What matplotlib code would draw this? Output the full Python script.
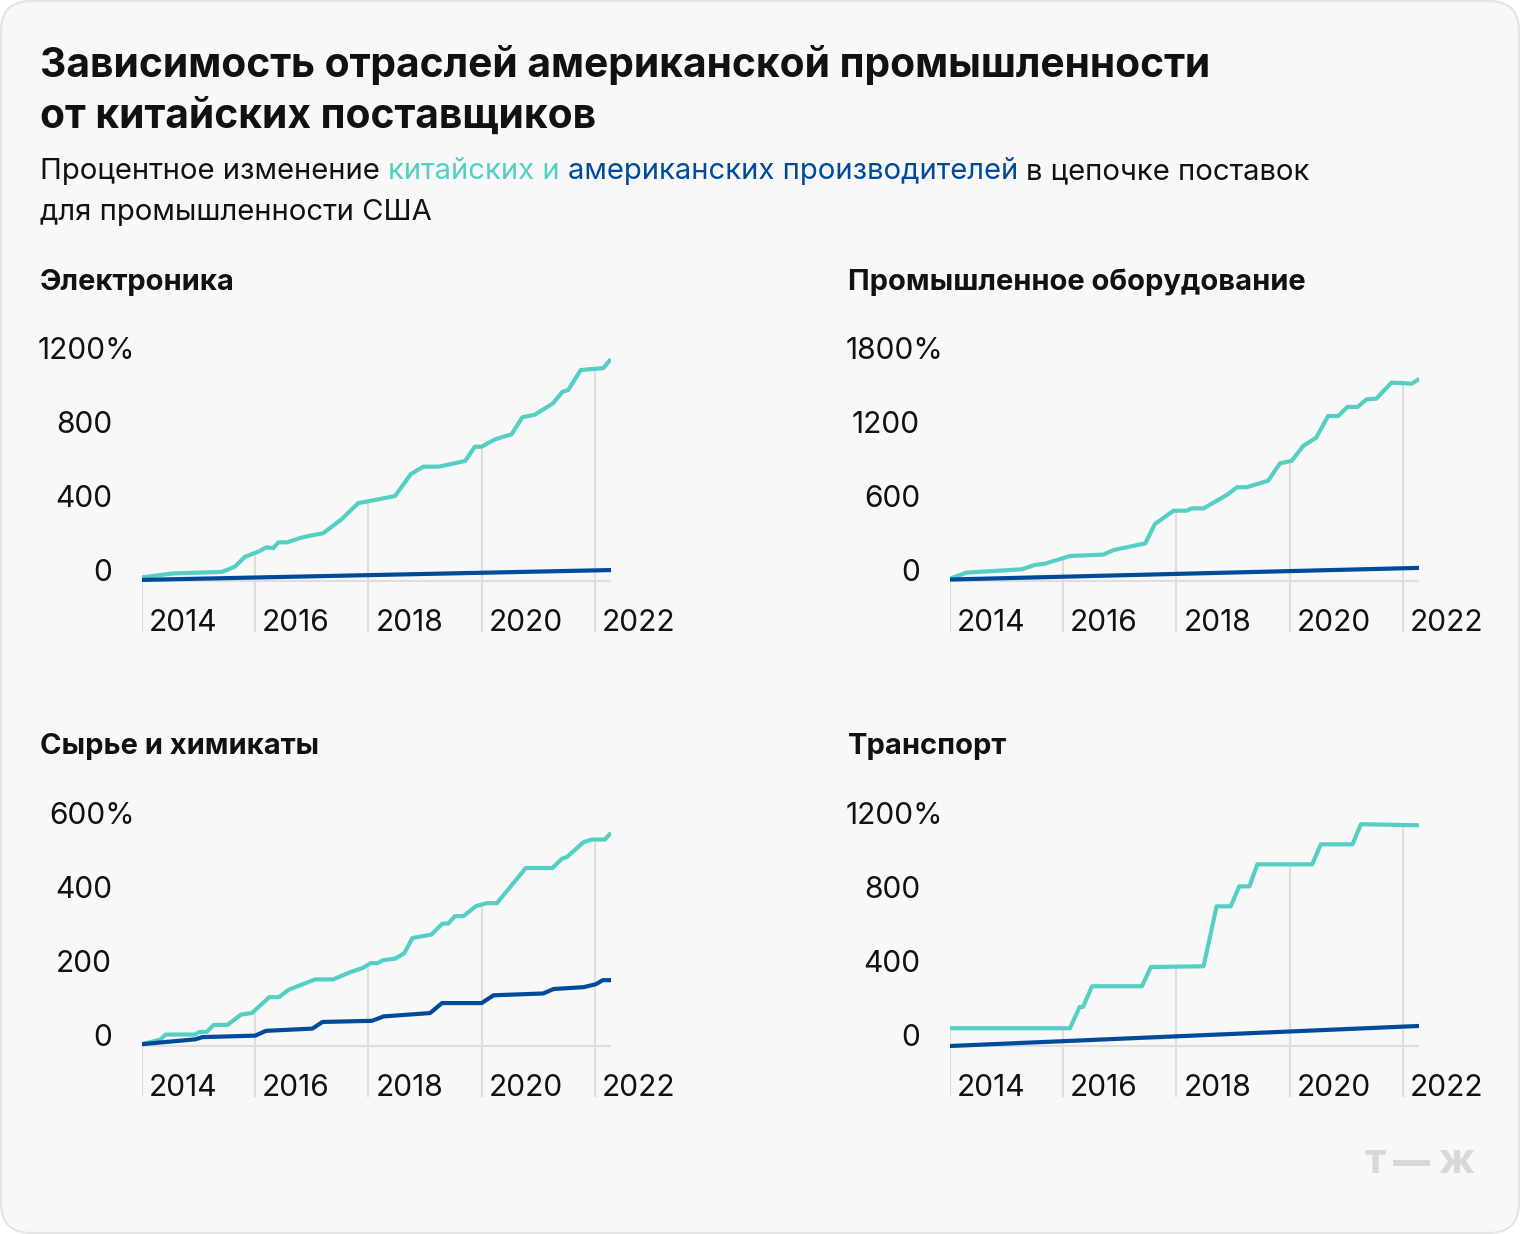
import numpy as np
import matplotlib
matplotlib.use("Agg")
import matplotlib.pyplot as plt
import matplotlib.transforms as mtransforms
from matplotlib.patches import FancyBboxPatch
from matplotlib.lines import Line2D

# ---- data ----
el_cn_x = [2014.0, 2014.55, 2015.41, 2015.64, 2015.82, 2016.05, 2016.2, 2016.32, 2016.41, 2016.56,
           2016.79, 2016.97, 2017.2, 2017.53, 2017.82, 2018.0, 2018.47, 2018.75, 2018.97, 2019.24,
           2019.71, 2019.88, 2020.0, 2020.24, 2020.53, 2020.72, 2020.94, 2021.26, 2021.43, 2021.53,
           2021.75, 2022.15, 2022.26]
el_cn_y = [20, 41, 49, 77, 131, 158, 182, 178, 209, 209,
           232, 245, 258, 335, 421, 431, 459, 578, 618, 618,
           649, 726, 726, 766, 793, 885, 899, 960, 1023, 1032,
           1140, 1151, 1191]
el_us_x = [2014.0, 2022.26]
el_us_y = [6, 59]

eq_cn_x = [2014.0, 2014.29, 2015.27, 2015.5, 2015.68, 2016.12, 2016.71, 2016.89, 2017.45, 2017.62,
           2017.95, 2018.18, 2018.27, 2018.48, 2018.89, 2019.07, 2019.24, 2019.62, 2019.83, 2020.04,
           2020.24, 2020.47, 2020.68, 2020.86, 2021.02, 2021.2, 2021.36, 2021.53, 2021.8, 2021.98,
           2022.16, 2022.26]
eq_cn_y = [19, 68, 95, 130, 141, 203, 214, 251, 305, 462,
           570, 570, 589, 589, 697, 760, 760, 813, 954, 975,
           1095, 1162, 1338, 1338, 1411, 1411, 1473, 1478, 1608, 1605,
           1600, 1630]
eq_us_x = [2014.0, 2022.26]
eq_us_y = [12, 106]

ch_cn_x = [2014.0, 2014.32, 2014.42, 2014.94, 2015.01, 2015.14, 2015.27, 2015.51, 2015.75, 2015.94,
           2016.25, 2016.42, 2016.59, 2017.06, 2017.38, 2017.67, 2017.9, 2018.04, 2018.16, 2018.26,
           2018.47, 2018.63, 2018.78, 2019.11, 2019.31, 2019.41, 2019.53, 2019.68, 2019.9, 2020.09,
           2020.27, 2020.78, 2021.25, 2021.42, 2021.51, 2021.8, 2021.95, 2022.18, 2022.26]
ch_cn_y = [5, 17, 31, 31, 38, 38, 57, 57, 85, 89,
           132, 132, 152, 180, 180, 199, 211, 224, 224, 232,
           236, 250, 292, 301, 331, 331, 351, 351, 378, 386,
           386, 481, 481, 506, 511, 551, 558, 558, 572]
ch_us_x = [2014.0, 2014.94, 2015.07, 2016.0, 2016.19, 2017.01, 2017.19, 2018.06, 2018.27, 2019.09,
           2019.3, 2020.0, 2020.21, 2021.09, 2021.27, 2021.8, 2022.02, 2022.14, 2022.26]
ch_us_y = [5, 18, 24, 28, 41, 47, 65, 68, 80, 89,
           116, 116, 137, 142, 154, 159, 167, 178, 178]

tr_cn_x = [2014.0, 2016.12, 2016.29, 2016.35, 2016.51, 2017.39, 2017.55, 2018.48, 2018.71, 2018.96,
           2019.11, 2019.29, 2019.43, 2020.4, 2020.55, 2021.11, 2021.26, 2022.26]
tr_cn_y = [96, 96, 211, 211, 323, 323, 427, 431, 755, 755,
           863, 863, 982, 982, 1090, 1090, 1199, 1193]
tr_us_x = [2014.0, 2022.26]
tr_us_y = [0, 108]

panel_titles = ["Электроника", "Промышленное оборудование", "Сырье и химикаты", "Транспорт"]
panel_steps = [400, 600, 200, 400]
year_labels = [2014, 2016, 2018, 2020, 2022]

TEAL = "#55cfc4"
BLUE = "#004a9c"
GRID = "#dedede"
INK = "#111111"

W, H = 1520, 1234
plt.rcParams["font.family"] = ["Inter", "DejaVu Sans"]

fig = plt.figure(figsize=(W / 100, H / 100), dpi=100, facecolor="white")
renderer = fig.canvas.get_renderer()

card = FancyBboxPatch((0.01, 0.01), W / 100 - 0.02, H / 100 - 0.02,
                      boxstyle="round,pad=0,rounding_size=0.3",
                      transform=fig.dpi_scale_trans, facecolor="#f8f8f8",
                      edgecolor="#e4e4e4", linewidth=1.5, zorder=-10)
fig.patches.append(card)


def fx(px):
    return px / W


def fy(py):
    return 1 - py / H


def text_w(s, size, weight="normal"):
    t = fig.text(0, 0, s, fontsize=size, fontweight=weight)
    w = t.get_window_extent(renderer).width
    t.remove()
    return w


def fit(s, target, weight="normal"):
    # font size that makes s about target pixels wide
    return 10 * target / text_w(s, 10, weight)


title1 = "Зависимость отраслей американской промышленности"
title2 = "от китайских поставщиков"
sub_parts = [("Процентное изменение", INK), ("китайских и", TEAL),
             ("американских производителей", BLUE), ("в цепочке поставок", INK)]
sub2 = "для промышленности США"

fs_title = fit(title1, 1172, "bold")
fs_sub = fit(" ".join(s for s, _ in sub_parts), 1276)
fs_panel = fit(panel_titles[1], 457, "bold")
fs_tick = fit("2014", 69)

fig.text(fx(40), fy(77), title1, fontsize=fs_title, fontweight="bold", color=INK, va="baseline")
fig.text(fx(40), fy(128), title2, fontsize=fs_title, fontweight="bold", color=INK, va="baseline")

space = text_w("a a", fs_sub) - text_w("aa", fs_sub)
x = 40
for s, c in sub_parts:
    fig.text(fx(x), fy(179), s, fontsize=fs_sub, color=c, va="baseline")
    x += text_w(s, fs_sub) + space
fig.text(fx(40), fy(220), sub2, fontsize=fs_sub, color=INK, va="baseline")

# panels: (axes left px, title baseline px, zero line px)
layout = [(142, 290, 581), (950, 290, 581), (142, 754, 1046), (950, 754, 1046)]
series = [(el_cn_x, el_cn_y, el_us_x, el_us_y),
          (eq_cn_x, eq_cn_y, eq_us_x, eq_us_y),
          (ch_cn_x, ch_cn_y, ch_us_x, ch_us_y),
          (tr_cn_x, tr_cn_y, tr_us_x, tr_us_y)]

for (left, ty, base), title, step, (cx, cy, ux, uy) in zip(layout, panel_titles, panel_steps, series):
    fig.text(fx(left - 102), fy(ty), title, fontsize=fs_panel, fontweight="bold",
             color=INK, va="baseline")
    top, bottom = base - 241, base + 51
    ax = fig.add_axes([fx(left), fy(bottom), 469 / W, (bottom - top) / H])
    ax.set_xlim(2014, 2014 + 469 / 56.6)
    ax.set_ylim(-51 / 74 * step, 241 / 74 * step)
    ax.axis("off")

    ymin = ax.get_ylim()[0]
    tops = np.interp(year_labels, cx, cy)
    ax.vlines(year_labels, ymin, tops, color=GRID, lw=1.5, zorder=1)
    ax.axhline(0, color=GRID, lw=1.5, zorder=1)

    ax.plot(cx, cy, color=TEAL, lw=3, zorder=3)
    ax.plot(ux, uy, color=BLUE, lw=3, zorder=4)

    ytr = ax.get_yaxis_transform()
    for i in range(3):
        v = i * step
        ax.text(-30 / 469, v, f"{v}", transform=ytr, ha="right", va="baseline",
                fontsize=fs_tick, color=INK)
    ax.text(-7 / 469, 3 * step, f"{3 * step}%", transform=ytr, ha="right", va="baseline",
            fontsize=fs_tick, color=INK)

    xtr = mtransforms.offset_copy(ax.get_xaxis_transform(), fig=fig, x=7, y=0, units="dots")
    for yr in year_labels:
        ax.text(yr, 0.004, str(yr), transform=xtr, ha="left", va="baseline",
                fontsize=fs_tick, color=INK)

# logo "т—ж"
LOGO = "#d8d8d8"
fig.text(fx(1375), fy(1173), "т", fontsize=30, fontweight="bold", color=LOGO,
         ha="center", va="baseline")
fig.text(fx(1456), fy(1173), "ж", fontsize=30, fontweight="bold", color=LOGO,
         ha="center", va="baseline")
fig.add_artist(Line2D([fx(1393), fx(1430)], [fy(1163), fy(1163)], color=LOGO,
                      lw=4.3, solid_capstyle="butt"))

fig.savefig("out.png", dpi=100, facecolor="white")
